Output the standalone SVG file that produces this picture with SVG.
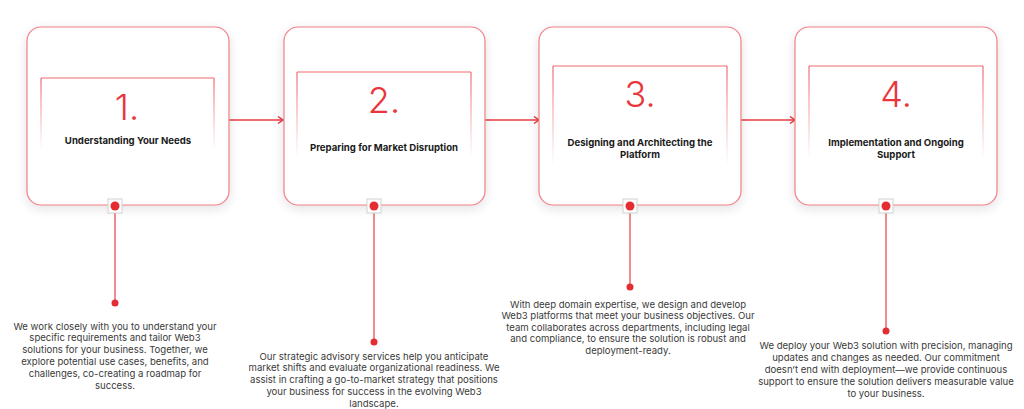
<svg xmlns="http://www.w3.org/2000/svg" width="1024" height="409" viewBox="0 0 1024 409">
<defs>
<filter id="sh" x="-20%" y="-20%" width="140%" height="140%">
<feGaussianBlur in="SourceAlpha" stdDeviation="6"/>
<feOffset dx="0" dy="3"/>
<feComponentTransfer><feFuncA type="linear" slope="0.12"/></feComponentTransfer>
<feMerge><feMergeNode/><feMergeNode in="SourceGraphic"/></feMerge>
</filter>
<linearGradient id="fade" x1="0" y1="0" x2="0" y2="1">
<stop offset="0" stop-color="#f06a6e" stop-opacity="1"/>
<stop offset="1" stop-color="#f06a6e" stop-opacity="0"/>
</linearGradient>
<marker id="arr" markerWidth="10" markerHeight="10" refX="7" refY="5" orient="auto" markerUnits="userSpaceOnUse">
<path d="M2,1.5 L7,5 L2,8.5" fill="none" stroke="#ea3a3f" stroke-width="1.5"/>
</marker>
<style>
.card{fill:#fff;stroke:#f07f82;stroke-width:1.2}
.itop{stroke:#f06a6e;stroke-width:1.2;fill:none}
.num{font-family:Inter,"Noto Sans",sans-serif;font-weight:300;font-size:36px;fill:#e8363c;text-anchor:middle}
.ttl{font-family:Inter,"Noto Sans",sans-serif;font-weight:700;font-size:9.6px;fill:#1a1a1a;text-anchor:middle}
.body{font-family:Inter,"Noto Sans",sans-serif;font-weight:400;font-size:9.55px;fill:#3a3a3a;text-anchor:middle}
.sq{fill:#fff;stroke:#d0d0d0;stroke-width:1}
.dot{fill:#e32d33}
.stem{stroke:#ef6468;stroke-width:1.5}
.conn{stroke:#ea3a3f;stroke-width:1.3;fill:none}
</style>
</defs>
<rect width="1024" height="409" fill="#fff"/>

<g id="connectors">
<line class="conn" x1="229" y1="120" x2="283" y2="120" marker-end="url(#arr)"/>
<line class="conn" x1="485" y1="120" x2="539" y2="120" marker-end="url(#arr)"/>
<line class="conn" x1="741" y1="120" x2="795" y2="120" marker-end="url(#arr)"/>
<line class="stem" x1="115" y1="213" x2="115" y2="303"/>
<line class="stem" x1="374" y1="213" x2="374" y2="342"/>
<line class="stem" x1="630" y1="213" x2="630" y2="287"/>
<line class="stem" x1="886" y1="213" x2="886" y2="331"/>
</g>

<g id="node1">
<rect class="card" x="27" y="27" width="202" height="178" rx="14" filter="url(#sh)"/>
<line class="itop" x1="41" y1="78" x2="214" y2="78"/>
<rect x="40.4" y="78" width="1.2" height="72" fill="url(#fade)"/>
<rect x="213.4" y="78" width="1.2" height="72" fill="url(#fade)"/>
<text class="num" x="127" y="120">1.</text>
<text class="ttl" x="128" y="144">Understanding Your Needs</text>
<rect class="sq" x="108" y="199" width="14" height="14"/>
<circle class="dot" cx="115" cy="206" r="4.5"/>
<circle class="dot" cx="115" cy="303" r="3.5"/>
<text class="body" x="115" y="329.5">We work closely with you to understand your</text>
<text class="body" x="115" y="341.3">specific requirements and tailor Web3</text>
<text class="body" x="115" y="353.1">solutions for your business. Together, we</text>
<text class="body" x="115" y="364.9">explore potential use cases, benefits, and</text>
<text class="body" x="115" y="376.7">challenges, co-creating a roadmap for</text>
<text class="body" x="115" y="388.5">success.</text>
</g>

<g id="node2">
<rect class="card" x="284" y="27" width="201" height="178" rx="14" filter="url(#sh)"/>
<line class="itop" x1="297" y1="72" x2="471" y2="72"/>
<rect x="296.4" y="72" width="1.2" height="86" fill="url(#fade)"/>
<rect x="470.4" y="72" width="1.2" height="86" fill="url(#fade)"/>
<text class="num" x="384" y="113">2.</text>
<text class="ttl" x="384" y="151">Preparing for Market Disruption</text>
<rect class="sq" x="367" y="199" width="14" height="14"/>
<circle class="dot" cx="374" cy="206" r="4.5"/>
<circle class="dot" cx="374" cy="342" r="3.5"/>
<text class="body" x="374" y="359.5">Our strategic advisory services help you anticipate</text>
<text class="body" x="374" y="371.3">market shifts and evaluate organizational readiness. We</text>
<text class="body" x="374" y="383.1">assist in crafting a go-to-market strategy that positions</text>
<text class="body" x="374" y="394.9">your business for success in the evolving Web3</text>
<text class="body" x="374" y="406.5">landscape.</text>
</g>

<g id="node3">
<rect class="card" x="539" y="27" width="202" height="178" rx="14" filter="url(#sh)"/>
<line class="itop" x1="553" y1="66" x2="727" y2="66"/>
<rect x="552.4" y="66" width="1.2" height="100" fill="url(#fade)"/>
<rect x="726.4" y="66" width="1.2" height="100" fill="url(#fade)"/>
<text class="num" x="640" y="107">3.</text>
<text class="ttl" x="640" y="146">Designing and Architecting the</text>
<text class="ttl" x="640" y="158">Platform</text>
<rect class="sq" x="623" y="199" width="14" height="14"/>
<circle class="dot" cx="630" cy="206" r="4.5"/>
<circle class="dot" cx="630" cy="287" r="3.5"/>
<text class="body" x="628" y="307.5">With deep domain expertise, we design and develop</text>
<text class="body" x="628" y="319">Web3 platforms that meet your business objectives. Our</text>
<text class="body" x="628" y="330.5">team collaborates across departments, including legal</text>
<text class="body" x="628" y="342">and compliance, to ensure the solution is robust and</text>
<text class="body" x="628" y="353.5">deployment-ready.</text>
</g>

<g id="node4">
<rect class="card" x="795" y="27" width="202" height="178" rx="14" filter="url(#sh)"/>
<line class="itop" x1="809" y1="66" x2="983" y2="66"/>
<rect x="808.4" y="66" width="1.2" height="94" fill="url(#fade)"/>
<rect x="982.4" y="66" width="1.2" height="94" fill="url(#fade)"/>
<text class="num" x="896" y="107">4.</text>
<text class="ttl" x="896" y="146">Implementation and Ongoing</text>
<text class="ttl" x="896" y="158">Support</text>
<rect class="sq" x="879" y="199" width="14" height="14"/>
<circle class="dot" cx="886" cy="206" r="4.5"/>
<circle class="dot" cx="886" cy="331" r="3.5"/>
<text class="body" x="886" y="349">We deploy your Web3 solution with precision, managing</text>
<text class="body" x="886" y="361">updates and changes as needed. Our commitment</text>
<text class="body" x="886" y="373">doesn’t end with deployment—we provide continuous</text>
<text class="body" x="886" y="385">support to ensure the solution delivers measurable value</text>
<text class="body" x="886" y="396.5">to your business.</text>
</g>
</svg>
